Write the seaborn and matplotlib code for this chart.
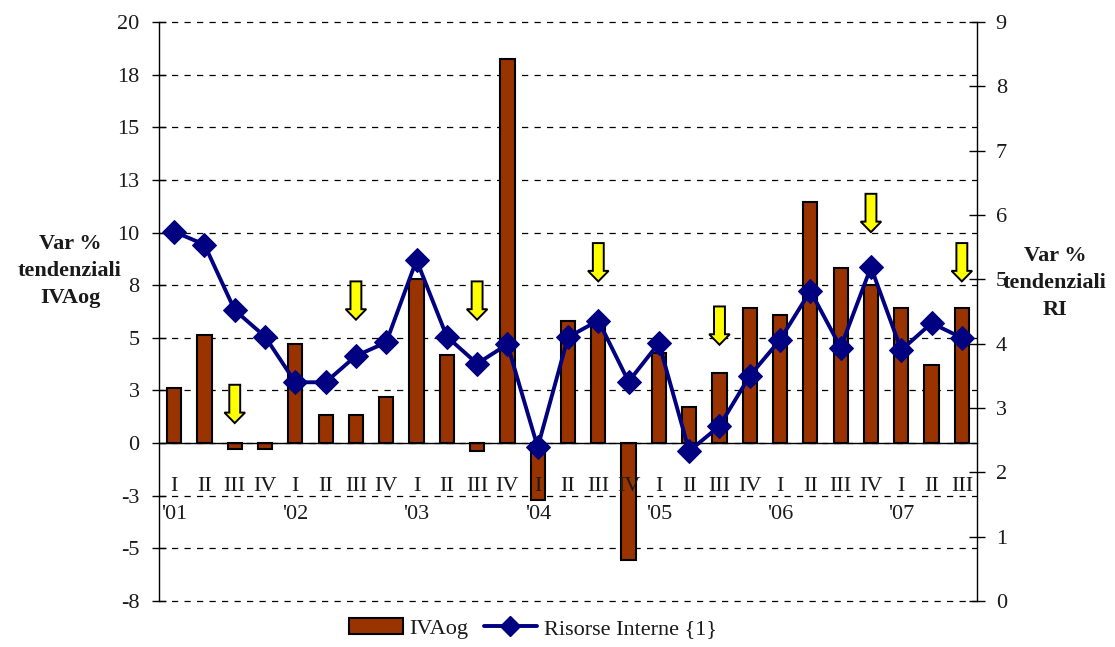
import numpy as np
import pandas as pd
import matplotlib
matplotlib.use("Agg")
import matplotlib.pyplot as plt
import seaborn as sns
from matplotlib.patches import FancyArrow, Patch
from matplotlib.lines import Line2D

# ---------------- data ----------------
quarters = ["I", "II", "III", "IV"] * 6 + ["I", "II", "III"]
years = ["'01", "'02", "'03", "'04", "'05", "'06", "'07"]
ivaog = [2.61, 5.14, -0.29, -0.29, 4.72, 1.34, 1.34, 2.17, 7.80, 4.18, -0.37, 18.26,
         -2.70, 5.78, 5.75, -5.56, 4.28, 1.71, 3.35, 6.43, 6.08, 11.43, 8.33, 7.52,
         6.43, 3.72, 6.43]
risorse = [5.74, 5.54, 4.52, 4.11, 3.40, 3.40, 3.81, 4.02, 5.30, 4.11, 3.69, 3.99,
           2.39, 4.10, 4.36, 3.41, 4.01, 2.33, 2.72, 3.50, 4.06, 4.82, 3.94, 5.19,
           3.90, 4.32, 4.09]
left_ticks = [20, 17.5, 15, 12.5, 10, 7.5, 5, 2.5, 0, -2.5, -5, -7.5]
left_labels = ["20", "18", "15", "13", "10", "8", "5", "3", "0", "-3", "-5", "-8"]
right_ticks = [0, 1, 2, 3, 4, 5, 6, 7, 8, 9]
arrow_idx = [2, 6, 10, 14, 18, 23, 26]
arrow_top = [2.77, 7.68, 7.68, 9.50, 6.49, 11.84, 9.50]

df = pd.DataFrame({"idx": np.arange(len(ivaog)), "IVAog": ivaog, "RI": risorse})

# ---------------- style ----------------
sns.set_theme(style="white")
plt.rcParams["font.family"] = ["Liberation Serif", "DejaVu Serif"]
plt.rcParams["font.size"] = 16

BAR = "#993300"
NAVY = "#000080"
TXT = "#1a1a1a"

fig = plt.figure(figsize=(11.15, 6.47), dpi=100)
ax = fig.add_axes([159 / 1115, 46 / 647, (977 - 159) / 1115, (601 - 22) / 647])

sns.barplot(data=df, x="idx", y="IVAog", color=BAR, edgecolor="black",
            linewidth=1.5, width=0.47, saturation=1, ax=ax, zorder=3)
n = len(ivaog)
ax.set_xlim(-0.5, n - 0.5)
ax.set_ylim(-7.5, 20)
ax.set_yticks(left_ticks)
ax.set_yticklabels(left_labels)
ax.set_xlabel("")
ax.set_ylabel("")

# gridlines
ax.set_axisbelow(True)
ax.yaxis.grid(True, linestyle=(0, (5, 5)), color="black", linewidth=0.9)
for gl in ax.get_ygridlines():
    gl.set_clip_on(False)

# spines
ax.spines["top"].set_visible(False)
ax.spines["right"].set_visible(False)
ax.spines["left"].set_color("black")
ax.spines["left"].set_linewidth(1.0)
ax.spines["bottom"].set_position(("data", 0))
ax.spines["bottom"].set_color("black")
ax.spines["bottom"].set_linewidth(1.0)
ax.spines["bottom"].set_zorder(4)

ax.set_xticks(np.arange(0.5, n - 0.5, 1.0))
ax.set_xticklabels([])
ax.tick_params(axis="x", direction="inout", length=11.5, width=0.9, color="#333333")
ax.tick_params(axis="y", direction="inout", length=10, width=1.0, color="black",
               pad=9, labelsize=16, labelcolor=TXT, left=True)

# category labels
for i, q in enumerate(quarters):
    ax.text(i, -2.05, q, ha="center", va="center", fontsize=16, color=TXT)
year_pos = [i for i, q in enumerate(quarters) if q == "I"]
for p, yl in zip(year_pos, years):
    ax.text(p, -3.4, yl, ha="center", va="center", fontsize=16, color=TXT)

# arrows
for xi, top in zip(arrow_idx, arrow_top):
    ax.add_patch(FancyArrow(xi, top, 0, -1.82, width=0.36, head_width=0.68,
                            head_length=0.5, length_includes_head=True,
                            facecolor="#ffff00", edgecolor="black", linewidth=1.4,
                            zorder=5))

# secondary axis
ax2 = ax.twinx()
sns.lineplot(data=df, x="idx", y="RI", ax=ax2, color=NAVY, linewidth=2.8,
             marker="D", markersize=12, markeredgecolor=NAVY, zorder=6)
ax2.set_ylim(0, 9)
ax2.set_yticks(right_ticks)
ax2.set_xlim(-0.5, n - 0.5)
ax2.set_xlabel("")
ax2.set_ylabel("")
for s in ["top", "left", "bottom"]:
    ax2.spines[s].set_visible(False)
ax2.spines["right"].set_color("black")
ax2.spines["right"].set_linewidth(1.0)
ax2.tick_params(axis="y", direction="inout", length=11, width=1.0, color="black",
                pad=8, labelsize=16, labelcolor=TXT, right=True)
ax2.grid(False)

# axis titles
fig.text(70 / 1115, 1 - 271 / 647, "Var %\ntendenziali\nIVAog", ha="center",
         va="center", fontsize=16, fontweight="bold", linespacing=1.45, color=TXT)
fig.text(1055 / 1115, 1 - 283 / 647, "Var %\ntendenziali\nRI", ha="center",
         va="center", fontsize=16, fontweight="bold", linespacing=1.45, color=TXT)

# legend
handles = [Patch(facecolor=BAR, edgecolor="black", linewidth=1.5),
           Line2D([0], [0], color=NAVY, linewidth=2.8, marker="D", markersize=10)]
fig.legend(handles, ["IVAog", "Risorse Interne {1}"], loc="lower center",
           bbox_to_anchor=(0.478, -0.018), ncol=2, frameon=False, fontsize=16,
           handlelength=2.4, handletextpad=0.3, columnspacing=0.7,
           labelcolor=TXT)

fig.savefig("out.png", dpi=100)
